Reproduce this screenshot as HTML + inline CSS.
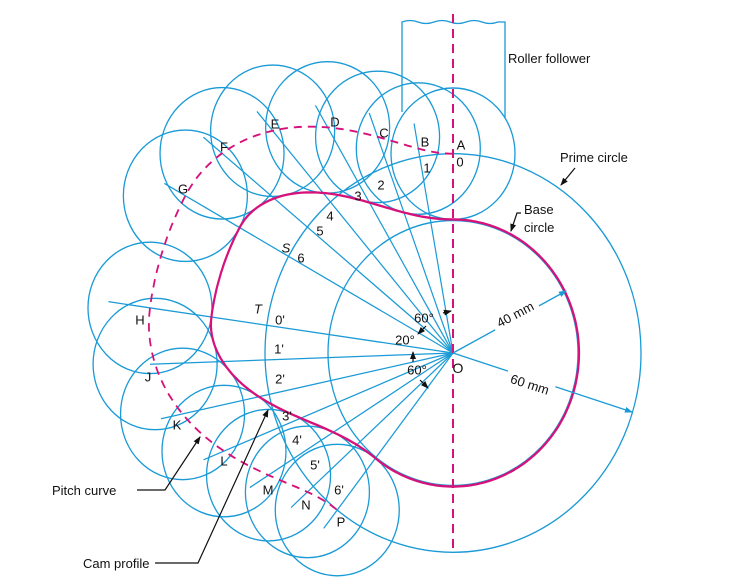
<!DOCTYPE html>
<html><head><meta charset="utf-8"><style>
html,body{margin:0;padding:0;background:#fff;overflow:hidden;}
svg{display:block;}
text{font-family:"Liberation Sans",sans-serif;font-size:13px;fill:#111;}
</style></head><body>
<svg id="s" width="730" height="586" viewBox="0 0 730 586" xmlns="http://www.w3.org/2000/svg">
<defs>
<marker id="ab" markerWidth="8" markerHeight="8" refX="7" refY="4" orient="auto" markerUnits="userSpaceOnUse"><path d="M0,1 L8,4 L0,7 z" fill="#1a9ad6"/></marker>
<marker id="ak" markerWidth="8" markerHeight="8" refX="7" refY="4" orient="auto" markerUnits="userSpaceOnUse"><path d="M0,1 L8,4 L0,7 z" fill="#111"/></marker>
</defs>
<path d="M402,112 L402,22 Q410,19 418,22 T434,22 T450,22 T466,22 T482,22 T498,22 L505,22 L505,118" fill="none" stroke="#1a9ad6" stroke-width="1.3"/>
<g id="geo" transform="translate(453,353) scale(1,1.06)"></g>
<line x1="453" y1="14" x2="453" y2="552" stroke="#d6127a" stroke-width="2" stroke-dasharray="9,6"/>
<line x1="453" y1="353" x2="566" y2="291" stroke="#1a9ad6" stroke-width="1.3" marker-end="url(#ab)"/>
<line x1="453" y1="353" x2="632" y2="412" stroke="#1a9ad6" stroke-width="1.3" marker-end="url(#ab)"/>
<rect x="490" y="305" width="50" height="18" fill="#fff" transform="rotate(-28 515 314)"/>
<text x="515" y="319" text-anchor="middle" transform="rotate(-28 515 314)">40 mm</text>
<rect x="505" y="376" width="50" height="16" fill="#fff" transform="rotate(18 530 384)"/>
<text x="530" y="389" text-anchor="middle" transform="rotate(18 530 384)">60 mm</text>
<text x="508" y="63">Roller  follower</text>
<text x="560" y="162">Prime circle</text>
<line x1="575" y1="168" x2="561" y2="185" stroke="#111" stroke-width="1.2" marker-end="url(#ak)"/>
<text x="524" y="214">Base</text>
<text x="524" y="232">circle</text>
<path d="M521,213 L517,213 L511,231" fill="none" stroke="#111" stroke-width="1.2" marker-end="url(#ak)"/>
<text x="52" y="495">Pitch curve</text>
<path d="M137,490 L165,490 L200,437" fill="none" stroke="#111" stroke-width="1.2" marker-end="url(#ak)"/>
<text x="83" y="568">Cam profile</text>
<path d="M155,563 L198,563 L268,410" fill="none" stroke="#111" stroke-width="1.2" marker-end="url(#ak)"/>
<line x1="443" y1="313" x2="451" y2="311" stroke="#111" stroke-width="1.2" marker-end="url(#ak)"/>
<line x1="426" y1="326" x2="418" y2="334" stroke="#111" stroke-width="1.2" marker-end="url(#ak)"/>
<line x1="413" y1="362" x2="413" y2="352" stroke="#111" stroke-width="1.2" marker-end="url(#ak)"/>
<line x1="420" y1="380" x2="428" y2="388" stroke="#111" stroke-width="1.2" marker-end="url(#ak)"/>
<g text-anchor="middle" dominant-baseline="central">
<text x="424" y="318">60°</text><text x="405" y="340">20°</text><text x="417" y="370">60°</text>
<text x="458" y="368" style="font-size:14px">O</text>
<text x="461" y="145">A</text><text x="460" y="162">0</text>
<text x="425" y="142">B</text><text x="384" y="133">C</text><text x="335" y="122">D</text>
<text x="275" y="124">E</text><text x="224" y="147">F</text><text x="183" y="189">G</text>
<text x="140" y="320">H</text><text x="148" y="377">J</text><text x="177" y="425">K</text>
<text x="224" y="461">L</text><text x="268" y="490">M</text><text x="306" y="505">N</text><text x="341" y="522">P</text>
<text x="427" y="168">1</text><text x="381" y="185">2</text><text x="358" y="196">3</text>
<text x="330" y="216">4</text><text x="320" y="231">5</text><text x="301" y="258">6</text>
<text x="286" y="248" font-style="italic">S</text><text x="258" y="309" font-style="italic">T</text>
<text x="280" y="320">0'</text><text x="279" y="349">1'</text><text x="280" y="379">2'</text>
<text x="287" y="416">3'</text><text x="297" y="440">4'</text><text x="315" y="465">5'</text><text x="339" y="490">6'</text>
</g>
</svg>
<script>
(function(){
var NS="http://www.w3.org/2000/svg",g=document.getElementById("geo");
var R0=188,RB=125,RR=62,L=118,D2R=Math.PI/180;
function el(t,a){var e=document.createElementNS(NS,t);for(var k in a)e.setAttribute(k,a[k]);g.appendChild(e);return e;}
function rp(th){
 th=((th%360)+360)%360;
 if(th<=61)return R0+L*(1-Math.cos(Math.PI*th/61))/2;
 if(th<=82)return R0+L;
 if(th<=142)return R0+L*(1+Math.cos(Math.PI*(th-82)/60))/2;
 return R0;}
function pt(th,r){return [-r*Math.sin(th*D2R),-r*Math.cos(th*D2R)];}
var B="#1a9ad6",M="#d6127a";
el("circle",{cx:0,cy:0,r:R0,fill:"none",stroke:B,"stroke-width":1.3});
el("circle",{cx:0,cy:0,r:RB,fill:"none",stroke:B,"stroke-width":1.3});
var angs=[0,10.2,20.3,30.5,40.7,50.8,61,82,92,102,112,122,132,142];
angs.forEach(function(a,i){
 var r=rp(a),p=pt(a,r);
 if(a>0){var ext=(i==7)?42:(i==8?5:(i<=6?24:22));var q=pt(a,r+ext);
  el("line",{x1:0,y1:0,x2:q[0],y2:q[1],stroke:B,"stroke-width":1.2});}
 el("circle",{cx:p[0],cy:p[1],r:RR,fill:"none",stroke:B,"stroke-width":1.3});
});
var d="";for(var a=0;a<=142;a+=1){var p=pt(a,rp(a));d+=(a?"L":"M")+p[0].toFixed(1)+","+p[1].toFixed(1);}
el("path",{d:d,fill:"none",stroke:M,"stroke-width":1.8,"stroke-dasharray":"8,6"});
var P=[];for(var a=0;a<360;a+=0.5){P.push(pt(a,rp(a)));}
var cd="";
for(var s=0;s<=360;s+=1){var u=[-Math.sin(s*D2R),-Math.cos(s*D2R)],best=1e9;
 for(var j=0;j<P.length;j++){var p=P[j],up=u[0]*p[0]+u[1]*p[1];if(up<=0)continue;
  var pp=p[0]*p[0]+p[1]*p[1],disc=RR*RR-(pp-up*up);
  if(disc>=0){var t=up-Math.sqrt(disc);if(t>0&&t<best)best=t;}}
 if(best>1e8)best=RB;
 var q=[u[0]*best,u[1]*best];cd+=(s?"L":"M")+q[0].toFixed(1)+","+q[1].toFixed(1);}
el("path",{d:cd+"Z",fill:"none",stroke:M,"stroke-width":2.2});
})();
</script>
</body></html>
